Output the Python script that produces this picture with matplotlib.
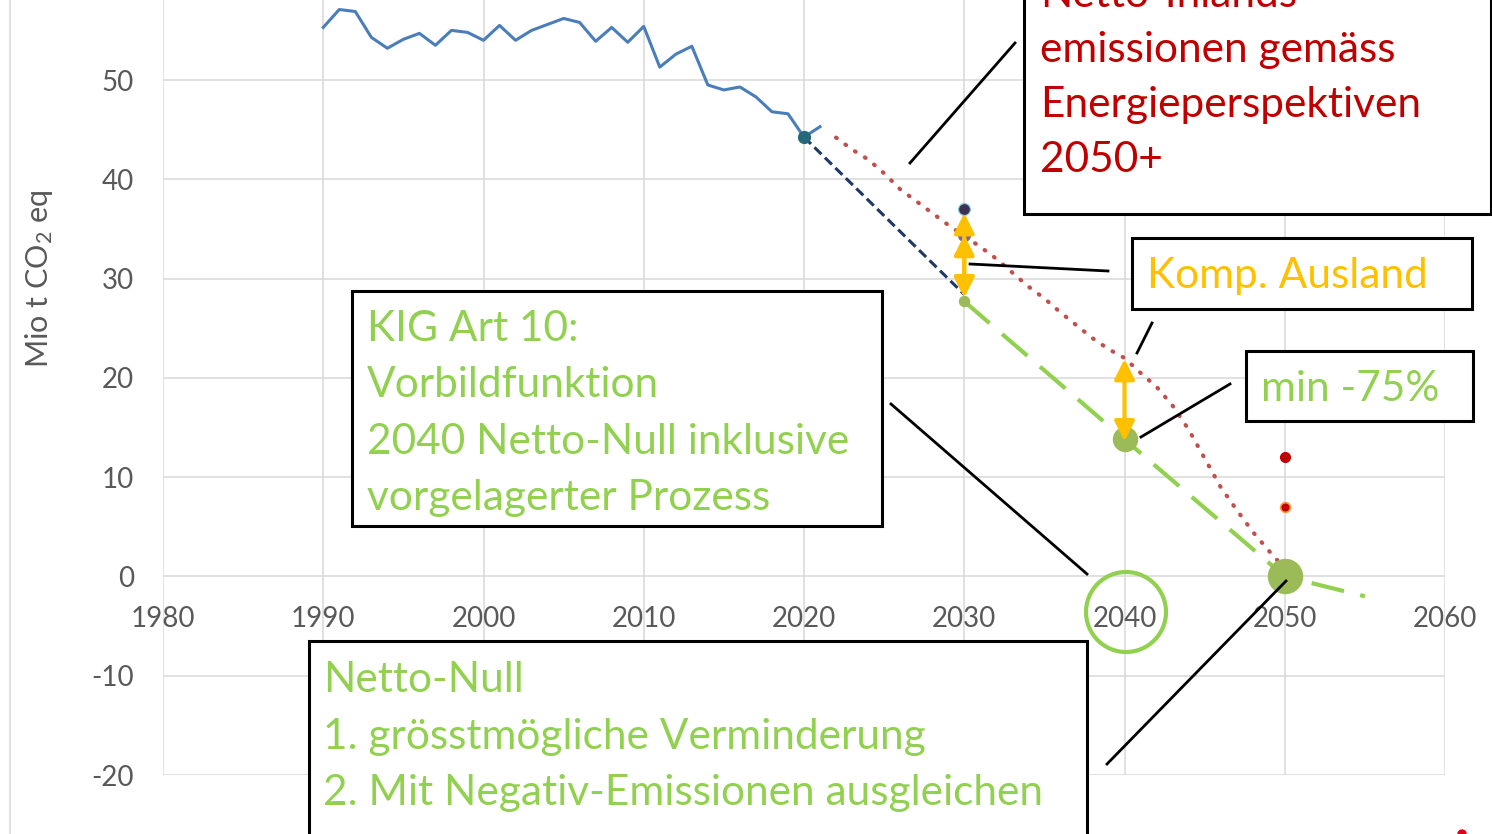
import matplotlib
matplotlib.use("Agg")
import matplotlib.pyplot as plt
from matplotlib.patches import Rectangle, Circle, FancyArrowPatch
from matplotlib.lines import Line2D

plt.rcParams['font.family'] = ['Lato', 'DejaVu Sans']
plt.rcParams['mathtext.fontset'] = 'custom'
plt.rcParams['mathtext.rm'] = 'Lato'
plt.rcParams['mathtext.it'] = 'Lato:italic'
plt.rcParams['axes.unicode_minus'] = False

W, H = 1492, 834

# --- data ---
hist_years = list(range(1990, 2022))
hist_values = [55.3, 57.1, 56.9, 54.3, 53.2, 54.1, 54.7, 53.5, 55.0, 54.8,
               54.0, 55.5, 54.0, 55.0, 55.6, 56.2, 55.8, 53.9, 55.3, 53.8,
               55.4, 51.3, 52.6, 53.4, 49.5, 49.0, 49.3, 48.3, 46.8, 46.6,
               44.25, 45.3]
ref_year, ref_value = 2020, 44.25

trend_years = [2020, 2030]
trend_values = [44.25, 28.4]

target_years = [2030, 2040, 2050, 2055]
target_values = [27.7, 13.8, 0.0, -2.0]
target_marker_px = [10, 24, 34]  # marker diameter for 2030 / 2040 / 2050

ep_years = list(range(2022, 2051))
ep_values = [44.2, 43.0, 42.0, 40.6, 39.0, 37.8, 36.6, 35.4, 34.3, 33.2,
             32.0, 30.6, 29.2, 28.0, 26.6, 25.3, 24.0, 22.9, 22.0, 20.5,
             19.1, 17.2, 14.8, 11.9, 9.0, 6.7, 4.5, 2.6, 0.8]

purple_year = 2030
purple_values = [37.0, 34.4]

comp_arrows = [(2030, 28.1, 36.6), (2030, 28.1, 34.4), (2040, 13.6, 21.9)]

red_year = 2050
red_values = [12.0, 7.0]

xticks = [1980, 1990, 2000, 2010, 2020, 2030, 2040, 2050, 2060]
yticks = [-20, -10, 0, 10, 20, 30, 40, 50]

GRAY = '#595959'
GREEN = '#92d050'
OLIVE = '#9bbb59'
RED = '#c00000'
ORANGE = '#ffc000'


def fx(x):
    return x / W


def fy(y):
    return 1 - y / H


fig = plt.figure(figsize=(W / 100, H / 100), dpi=100)
ax = fig.add_axes([fx(163), fy(0) - (775 / H), (1445 - 163) / W, 775 / H])
ax.set_xlim(1980, 2060)
ax.set_ylim(-20, 58.06)

ax.set_xticks(xticks)
ax.set_yticks(yticks)
ax.grid(True, color='#d9d9d9', linewidth=1.1)
ax.set_axisbelow(True)
for s in ['top', 'right', 'left']:
    ax.spines[s].set_visible(False)
ax.spines['bottom'].set_position(('data', 0))
ax.spines['bottom'].set_visible(False)
ax.tick_params(axis='both', length=0, labelsize=20, labelcolor=GRAY)
ax.tick_params(axis='x', pad=21)
ax.tick_params(axis='y', pad=21)
ax.set_ylabel('Mio t CO$_2$ eq', fontsize=22, color=GRAY)
ax.yaxis.set_label_coords((55 - 163) / (1445 - 163), (775 - 279) / 775)

# historical emissions
ax.plot(hist_years, hist_values, color='#4a7ebb', lw=2.2, zorder=3)
# linear trend to 2030
ax.plot(trend_years, trend_values, color='#1f3864', lw=2.2,
        dashes=(3.2, 1.6), zorder=3)
ax.plot([ref_year], [ref_value], 'o', color='#24687a', ms=8.5, zorder=5)

# Energieperspektiven
ax.plot(ep_years, ep_values, color='#c0504d', lw=3.0,
        linestyle=(0, (0.2, 2.6)), dash_capstyle='round', zorder=3)

# target path
ax.plot(target_years, target_values, color=GREEN, lw=3.0,
        dashes=(8, 4), zorder=4)
for yr, val, d in zip(target_years[:3], target_values[:3], target_marker_px):
    ax.plot([yr], [val], 'o', color=OLIVE, ms=d * 0.72, zorder=5)

ax.plot([purple_year], [purple_values[0]], 'o', color='#403152',
        mec='#7fc8dc', mew=0.8, ms=8.5, zorder=5)
ax.plot([purple_year], [purple_values[1]], 'o', color='#8064a2', ms=8.5,
        zorder=5)

ax.plot([red_year], [red_values[0]], 'o', color=RED, ms=7, zorder=5)
ax.plot([red_year], [red_values[1]], 'o', color=RED, mec='#ff9933',
        mew=1.2, ms=7, zorder=5)

for yr, lo, hi in comp_arrows:
    ax.add_patch(FancyArrowPatch((yr, lo), (yr, hi), arrowstyle='<|-|>',
                                 mutation_scale=30, color=ORANGE, lw=3,
                                 shrinkA=0, shrinkB=0, zorder=6))

# outer frame line
fig.add_artist(Line2D([fx(10), fx(10)], [0, 1], color='#d9d9d9', lw=1.1))

# callout lines
callouts = [((910, 163), (1015, 43)),
            ((970, 264), (1108, 271)),
            ((1137, 353), (1152, 323)),
            ((1141, 437), (1230, 384)),
            ((891, 404), (1087, 574)),
            ((1107, 764), (1286, 581))]
for (x0, y0), (x1, y1) in callouts:
    fig.add_artist(Line2D([fx(x0), fx(x1)], [fy(y0), fy(y1)],
                          color='black', lw=2, zorder=7))

# circle around 2040 label
fig.add_artist(Circle((1126, H - 612), 40, transform=None, fill=False,
                      edgecolor=GREEN, lw=3, zorder=8))

# text boxes
boxes = [
    ((1024, -40, 1491, 214), RED,
     ['Netto-Inlands-', 'emissionen gemäss', 'Energieperspektiven', '2050+'],
     1040, -5, 55),
    ((1132, 238, 1472, 309), ORANGE, ['Komp. Ausland'], 1147, 276, 55),
    ((1246, 351, 1473, 421), GREEN, ['min -75%'], 1261, 389, 55),
    ((352, 291, 882, 526), GREEN,
     ['KIG Art 10:', 'Vorbildfunktion', '2040 Netto-Null inklusive',
      'vorgelagerter Prozess'], 367, 329, 56.3),
    ((309, 641, 1087, 880), GREEN,
     ['Netto-Null', '1. grösstmögliche Verminderung',
      '2. Mit Negativ-Emissionen ausgleichen'], 323, 680, 56.5),
]
for (x0, y0, x1, y1), col, lines, tx, ty, step in boxes:
    fig.add_artist(Rectangle((fx(x0), fy(y1)), fx(x1 - x0), (y1 - y0) / H,
                             transform=fig.transFigure, facecolor='white',
                             edgecolor='black', lw=2.2, zorder=6))
    for i, line in enumerate(lines):
        fig.text(fx(tx), fy(ty + i * step), line, color=col, fontsize=30.5,
                 ha='left', va='center', zorder=9)

fig.add_artist(Circle((1462, H - 834), 4, transform=None, color='#e0001b',
                      zorder=8))

fig.savefig('out.png', dpi=100)
